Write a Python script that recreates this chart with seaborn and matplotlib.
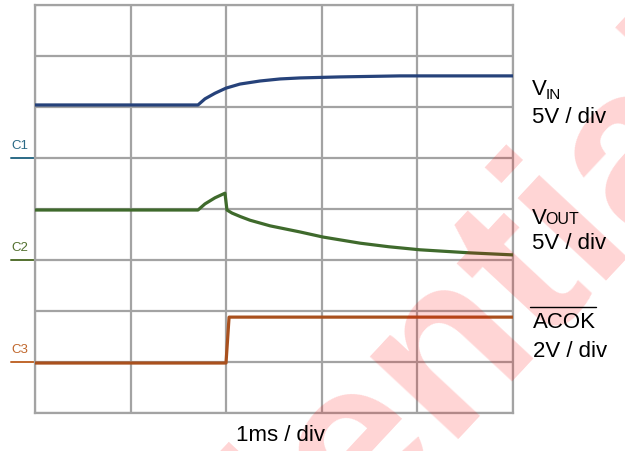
"""
scope_startup.py
VIN / VOUT / ACOK 上电波形（示波器截图风格）
"""

import numpy as np
import matplotlib.pyplot as plt
import seaborn as sns
import pandas as pd

sns.set_style('white')
plt.rcParams['font.family'] = ['Liberation Sans', 'DejaVu Sans']
plt.rcParams['text.color'] = 'black'

# 时间单位：div（1ms / div），幅值单位：div（自下往上 0~8）
vin_t = [0, 1.705, 1.778, 1.883, 1.998, 2.144, 2.354, 2.563, 2.772, 3.19, 3.818, 5.0]
vin_v = [6.04, 6.04, 6.16, 6.27, 6.37, 6.45, 6.51, 6.55, 6.57, 6.59, 6.61, 6.61]

vout_t = [0, 1.705, 1.778, 1.883, 1.987, 2.008, 2.061, 2.15, 2.249, 2.458, 2.772, 3.013,
          3.4, 3.7, 4.027, 4.55, 5.0]
vout_v = [3.98, 3.98, 4.10, 4.22, 4.31, 3.98, 3.92, 3.85, 3.78, 3.67, 3.55, 3.45,
          3.33, 3.26, 3.2, 3.14, 3.1]

acok_t = [0, 1.998, 2.03, 5.0]
acok_v = [0.98, 0.98, 1.88, 1.88]

channels = ['C1', 'C2', 'C3']
ch_levels = [5.0, 3.0, 1.0]
ch_colors = ['#2b6a86', '#53702f', '#c0672c']
trace_colors = ['#26427a', '#3f6a2c', '#a9501d']

n_cols, n_rows = 5, 8

fig = plt.figure(figsize=(6.25, 4.51), dpi=100)
ax = fig.add_axes([35 / 625, 38 / 451, 478 / 625, 408 / 451])

# 水印
fig.text(0.435, -0.2, 'Confidential', rotation=47, fontsize=165, fontweight='bold',
         color='#ff0000', alpha=0.17, ha='center', va='center', zorder=0)

ax.set_xlim(0, n_cols)
ax.set_ylim(0, n_rows)
ax.set_facecolor('none')
ax.set_xticks(range(n_cols + 1))
ax.set_yticks(range(n_rows + 1))
ax.set_xticklabels([])
ax.set_yticklabels([])
ax.tick_params(length=0)
ax.grid(True, color='#a3a3a3', lw=1.6)
for s in ax.spines.values():
    s.set_color('#a3a3a3')
    s.set_linewidth(1.6)

df = pd.concat([
    pd.DataFrame({'t': vin_t, 'v': vin_v, 'sig': 'VIN'}),
    pd.DataFrame({'t': vout_t, 'v': vout_v, 'sig': 'VOUT'}),
    pd.DataFrame({'t': acok_t, 'v': acok_v, 'sig': 'ACOK'}),
])
for sig, c in zip(['VIN', 'VOUT', 'ACOK'], trace_colors):
    sns.lineplot(data=df[df['sig'] == sig], x='t', y='v', color=c, lw=2.3,
                 ax=ax, sort=False, estimator=None, legend=False, zorder=3)
ax.set_xlabel('')
ax.set_ylabel('')

# 通道零点标记
for ch, lvl, c in zip(channels, ch_levels, ch_colors):
    ax.plot([-0.25, 0], [lvl, lvl], color=c, lw=1.4, clip_on=False)
    ax.text(-0.25, lvl + 0.12, ch, color=c, fontsize=9.5, ha='left', va='bottom')

# 右侧说明
def px(x, y):
    return x / 625, 1 - y / 451

fs = 16
fig.text(*px(532, 95), 'V', fontsize=fs, va='baseline')
fig.text(*px(546, 99), 'IN', fontsize=11, va='baseline')
fig.text(*px(532, 123), '5V / div', fontsize=fs, va='baseline')
fig.text(*px(532, 224), 'V', fontsize=fs, va='baseline')
fig.text(*px(545, 224), 'OUT', fontsize=11.5, va='baseline')
fig.text(*px(532, 249), '5V / div', fontsize=fs, va='baseline')
fig.text(*px(533, 328), 'ACOK', fontsize=fs, va='baseline')
fig.add_artist(plt.Line2D([530 / 625, 596 / 625], [1 - 307 / 451] * 2,
                          color='black', lw=1.0, transform=fig.transFigure))
fig.text(*px(533, 357), '2V / div', fontsize=fs, va='baseline')
fig.text(*px(280, 441), '1ms / div', fontsize=fs, va='baseline', ha='center')

plt.savefig('out.png', dpi=100)
